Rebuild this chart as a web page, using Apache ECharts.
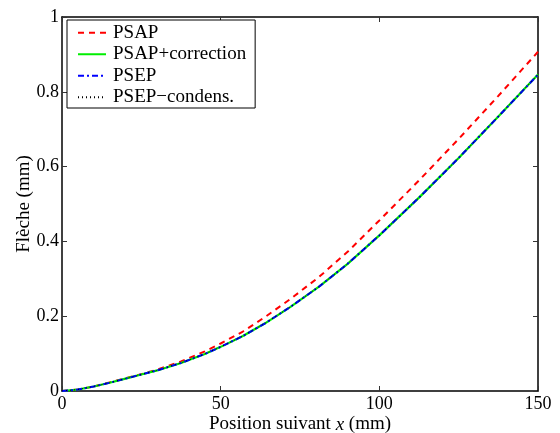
<!DOCTYPE html>
<html>
<head>
<meta charset="utf-8">
<script src="https://cdn.jsdelivr.net/npm/echarts@6/dist/echarts.min.js"></script>
<style>
html,body{margin:0;padding:0;background:#fff;}
#c{width:560px;height:433px;}
</style>
</head>
<body>
<div id="c"></div>
<script>
var positions = [0, 5, 10, 15, 20, 25, 30, 37.5, 45, 50, 57, 64, 72, 81, 90, 100, 112.5, 125, 137.5, 150];
var psap      = [0, 0.004, 0.012, 0.023, 0.034, 0.045, 0.057, 0.079, 0.106, 0.127, 0.159, 0.198, 0.246, 0.305, 0.372, 0.456, 0.563, 0.674, 0.789, 0.907];
var psapCorr  = [0, 0.004, 0.012, 0.022, 0.033, 0.044, 0.055, 0.075, 0.099, 0.118, 0.147, 0.181, 0.225, 0.279, 0.340, 0.416, 0.517, 0.623, 0.734, 0.846];
var psep      = [0, 0.004, 0.012, 0.022, 0.033, 0.044, 0.055, 0.075, 0.099, 0.118, 0.147, 0.181, 0.225, 0.279, 0.340, 0.416, 0.517, 0.623, 0.734, 0.846];
var psepCond  = [0, 0.004, 0.012, 0.022, 0.033, 0.044, 0.055, 0.075, 0.099, 0.118, 0.147, 0.181, 0.225, 0.279, 0.340, 0.416, 0.517, 0.623, 0.734, 0.846];
var seriesNames = ['PSAP', 'PSAP+correction', 'PSEP', 'PSEP\u2212condens.'];
var xTicks = [0, 50, 100, 150];
var yTicks = [0, 0.2, 0.4, 0.6, 0.8, 1];

function pairs(ys){ return positions.map(function(x,i){ return [x, ys[i]]; }); }

var font = 'Liberation Serif';
var chart = echarts.init(document.getElementById('c'));
var axisCommon = {
  axisLine: {show: true, onZero: false, lineStyle: {color: '#000', width: 1.5}},
  axisTick: {show: true, inside: true, length: 5, lineStyle: {color: '#333', width: 1}},
  splitLine: {show: false}
};
chart.setOption({
  backgroundColor: '#fff',
  animation: false,
  grid: {left: 62, right: 22, top: 17, bottom: 42, containLabel: false, outerBoundsMode: 'none'},
  legend: {
    show: true,
    orient: 'vertical',
    left: 67, top: 20,
    padding: [2, 9, 0, 10],
    itemGap: 0,
    itemWidth: 28,
    itemHeight: 14,
    borderColor: '#000',
    borderWidth: 1,
    backgroundColor: '#fff',
    itemStyle: {opacity: 0},
    textStyle: {fontFamily: font, fontSize: 19, color: '#000', lineHeight: 21.5, padding: [0,0,0,2]},
    data: seriesNames
  },
  xAxis: [
    Object.assign({
      type: 'value', min: 0, max: 150, interval: 50, position: 'bottom',
      name: '{n|Position suivant }{i|x}{n| (mm)}',
      nameLocation: 'middle', nameGap: 24, nameMoveOverlap: false,
      nameTextStyle: {verticalAlign: 'top', rich: {n: {fontFamily: font, fontSize: 19, color: '#000'}, i: {fontFamily: font, fontSize: 19, fontStyle: 'italic', color: '#000'}}},
      axisLabel: {fontFamily: font, fontSize: 18, color: '#000', margin: 4}
    }, axisCommon),
    Object.assign({
      type: 'value', min: 0, max: 150, interval: 50, position: 'top',
      axisLabel: {show: false}
    }, axisCommon)
  ],
  yAxis: [
    Object.assign({
      type: 'value', min: 0, max: 1, interval: 0.2, position: 'left',
      name: 'Flèche (mm)', nameLocation: 'middle', nameGap: 28, nameMoveOverlap: false,
      nameTextStyle: {fontFamily: font, fontSize: 19, color: '#000'},
      axisLabel: {fontFamily: font, fontSize: 18, color: '#000', margin: 3,
        formatter: function(v){ return String(Math.round(v*10)/10); }}
    }, axisCommon),
    Object.assign({
      type: 'value', min: 0, max: 1, interval: 0.2, position: 'right',
      axisLabel: {show: false}
    }, axisCommon)
  ],
  series: [
    {name: seriesNames[0], type: 'line', data: pairs(psap), symbol: 'none', z: 2,
     lineStyle: {color: '#ff0000', width: 2, type: [6, 5]}, itemStyle: {color: '#ff0000'}},
    {name: seriesNames[1], type: 'line', data: pairs(psapCorr), symbol: 'none', z: 3,
     lineStyle: {color: '#00ee00', width: 2.2, type: 'solid'}, itemStyle: {color: '#00ee00'}},
    {name: seriesNames[2], type: 'line', data: pairs(psep), symbol: 'none', z: 4,
     lineStyle: {color: '#0000ff', width: 2, type: [6, 3, 2, 3]}, itemStyle: {color: '#0000ff'}},
    {name: seriesNames[3], type: 'line', data: pairs(psepCond), symbol: 'none', z: 5,
     lineStyle: {color: '#000000', width: 1, type: [1, 3]}, itemStyle: {color: '#000000'}}
  ]
});
</script>
</body>
</html>
